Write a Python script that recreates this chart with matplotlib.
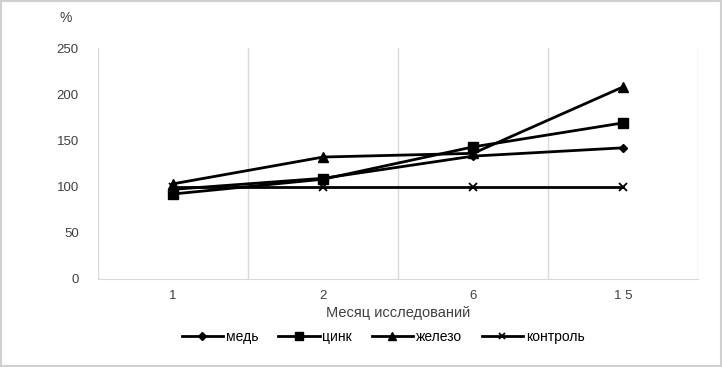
import numpy as np
import matplotlib.pyplot as plt

plt.rcParams['font.family'] = ['Liberation Sans', 'DejaVu Sans']

# data
months = ['1', '2', '6', '1 5']
med = [97, 109, 133, 142]
zink = [92, 108, 143, 169]
zhelezo = [103, 132, 136, 208]
kontrol = [100, 100, 100, 100]

fig = plt.figure(figsize=(7.22, 3.67), dpi=100)
ax = fig.add_axes([0.136, 0.240, 0.831, 0.629])

x = np.arange(len(months))
ax.plot(x, med, c='black', lw=2, marker='D', ms=4.5, label='медь')
ax.plot(x, zink, c='black', lw=2, marker='s', ms=7.5, label='цинк')
ax.plot(x, zhelezo, c='black', lw=2, marker='^', ms=7.5, label='железо')
ax.plot(x, kontrol, c='black', lw=2, marker='x', ms=6, mew=1.3, label='контроль')

ax.set_xlim(-0.5, len(months) - 0.5)
ax.set_ylim(0, 250)
ax.set_yticks([0, 50, 100, 150, 200, 250])
ax.set_xticks(x)
ax.set_xticklabels(months)
for b in np.arange(-0.5, len(months), 1.0):
    ax.axvline(b, c='#d9d9d9', lw=1, zorder=0)

for s in ['top', 'right', 'left']:
    ax.spines[s].set_visible(False)
ax.spines['bottom'].set_color('#d9d9d9')
ax.tick_params(length=0, labelsize=9.5, colors='#404040')
ax.tick_params(axis='y', pad=14)
ax.tick_params(axis='x', pad=8)

ax.set_xlabel('Месяц исследований', fontsize=10.5, color='#404040', labelpad=3)
fig.text(0.083, 0.95, '%', fontsize=10, color='#404040', va='center')

ax.legend(loc='upper center', bbox_to_anchor=(0.475, -0.165), ncol=4, frameon=False,
          fontsize=10, handlelength=3, columnspacing=1.4, handletextpad=0.2,
          markerscale=0.8)

# light frame round the whole picture
fig.patches.append(plt.Rectangle((0.002, 0.003), 0.996, 0.994, transform=fig.transFigure,
                                 fill=False, ec='#d0d0d0', lw=1.5))

fig.savefig('out.png', dpi=100)
